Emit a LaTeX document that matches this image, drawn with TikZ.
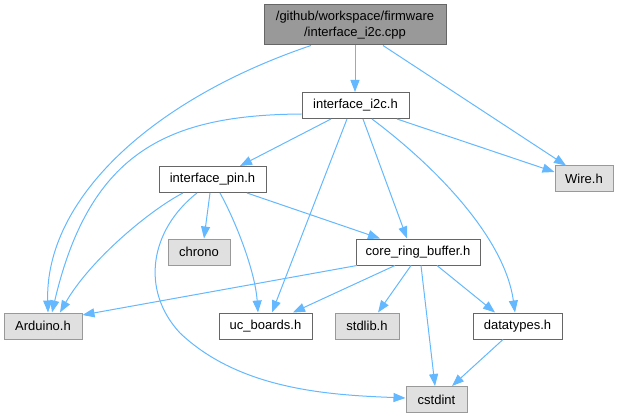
\documentclass[tikz,border=0pt]{standalone}
\usepackage{fontspec}
\setmainfont{Liberation Sans}
\usetikzlibrary{arrows.meta}
\definecolor{edgec}{HTML}{63B8FF}
\definecolor{extfill}{HTML}{E0E0E0}
\definecolor{extdraw}{HTML}{999999}
\definecolor{topfill}{HTML}{999999}
\definecolor{topdraw}{HTML}{666666}
\definecolor{intdraw}{HTML}{666666}
\tikzset{
  nbase/.style={line width=1pt, inner sep=0pt, minimum height=26pt, font=\fontsize{13}{16}\selectfont},
  intnode/.style={nbase, fill=white, draw=intdraw},
  extnode/.style={nbase, fill=extfill, draw=extdraw},
  topnode/.style={nbase, fill=topfill, draw=topdraw, align=center, minimum height=40pt},
  dep/.style={draw=edgec, line width=1pt, -{Triangle[length=12pt,width=9pt]}, fill=none},
}
\begin{document}
\begin{tikzpicture}[x=1pt,y=-1pt]
\useasboundingbox (0,0) rectangle (619,417);
% nodes
\node[topnode, minimum width=182pt] (cpp) at (355,25) {/github/workspace/firmware\\/interface\_i2c.cpp};
\node[intnode, minimum width=107pt] (i2c) at (355.5,105.5) {interface\_i2c.h};
\node[extnode, minimum width=58pt] (wire) at (584,179) {Wire.h};
\node[intnode, minimum width=107pt] (pin) at (212.5,179.5) {interface\_pin.h};
\node[extnode, minimum width=62pt] (chrono) at (199,252) {chrono};
\node[intnode, minimum width=124pt] (crb) at (418,252) {core\_ring\_buffer.h};
\node[extnode, minimum width=78pt] (ard) at (43,326) {Arduino.h};
\node[intnode, minimum width=93pt] (uc) at (265.5,326) {uc\_boards.h};
\node[extnode, minimum width=64pt] (stdlib) at (367,326) {stdlib.h};
\node[intnode, minimum width=89pt] (dt) at (517.5,326) {datatypes.h};
\node[extnode, minimum width=61pt] (cstd) at (436.5,399.5) {cstdint};
% edges from cpp
\draw[dep] (cpp.south) -- (cpp.south |- i2c.north);
\draw[dep] ([xshift=28pt]cpp.south) -- ([xshift=-18pt]wire.north);
\draw[dep] ([xshift=-44pt]cpp.south) .. controls (150,100) and (45,200) .. ([xshift=5pt]ard.north);
% edges from i2c
\draw[dep] ([xshift=-24.5pt]i2c.south) -- ([xshift=27.5pt]pin.north);
\draw[dep] ([yshift=-8.5pt]i2c.west) .. controls (170,115) and (90,150) .. ([xshift=9pt]ard.north);
\draw[dep] ([xshift=-8.5pt]i2c.south) -- ([xshift=6.5pt]uc.north);
\draw[dep] ([xshift=7.5pt]i2c.south) -- ([xshift=-11pt]crb.north);
\draw[dep] ([xshift=16.5pt]i2c.south) .. controls (440,170) and (505,240) .. ([xshift=-2.5pt]dt.north);
\draw[dep] ([xshift=41.5pt]i2c.south) -- ([yshift=7pt]wire.west);
% edges from pin
\draw[dep] ([xshift=-29.5pt]pin.south) .. controls (150,210) and (90,260) .. ([xshift=17pt]ard.north);
\draw[dep] ([xshift=-15.5pt]pin.south) .. controls (150,230) and (140,290) .. (180,333) .. controls (240,390) and (330,395) .. ([yshift=1.5pt]cstd.west);
\draw[dep] ([xshift=-2.5pt]pin.south) -- ([xshift=5pt]chrono.north);
\draw[dep] ([xshift=7.5pt]pin.south) .. controls (235,220) and (255,270) .. ([xshift=-7.5pt]uc.north);
\draw[dep] ([xshift=34.5pt]pin.south) -- ([xshift=-38pt]crb.north);
% edges from crb
\draw[dep] ([xshift=-61pt]crb.south) -- ([yshift=11pt]ard.east);
\draw[dep] ([xshift=-23pt]crb.south) -- ([xshift=27.5pt]uc.north);
\draw[dep] ([xshift=-7pt]crb.south) -- ([xshift=11pt]stdlib.north);
\draw[dep] ([xshift=3pt]crb.south) -- ([xshift=-1.5pt]cstd.north);
\draw[dep] ([xshift=19pt]crb.south) -- ([xshift=-22.5pt]dt.north);
% datatypes
\draw[dep] ([xshift=-14.5pt]dt.south) -- ([xshift=15.5pt]cstd.north);
\end{tikzpicture}
\end{document}
